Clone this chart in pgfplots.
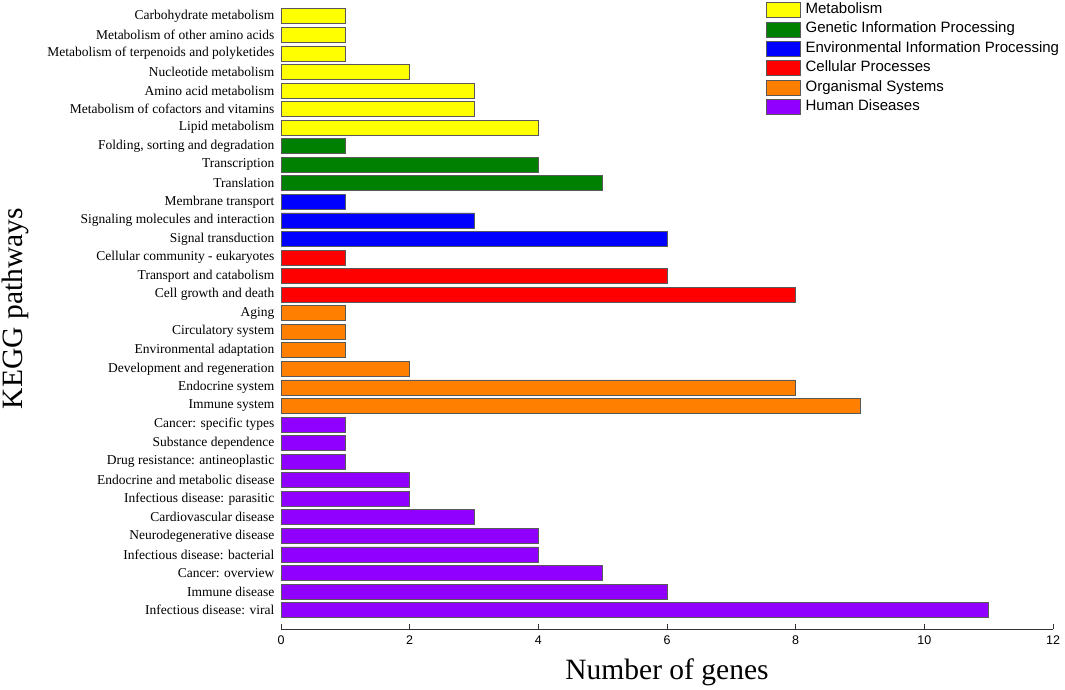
\documentclass[border=0pt]{standalone}
\usepackage{fontspec}
\setmainfont{Liberation Serif}
\newfontfamily\arial{Liberation Sans}
\usepackage{pgfplots}
\pgfplotsset{compat=1.18}

\definecolor{cMet}{RGB}{255,255,0}
\definecolor{cGen}{RGB}{0,128,0}
\definecolor{cEnv}{RGB}{0,0,255}
\definecolor{cCel}{RGB}{255,0,0}
\definecolor{cOrg}{RGB}{255,128,0}
\definecolor{cHum}{RGB}{143,0,255}

\begin{document}
\begin{tikzpicture}[x=1pt,y=1pt]
\useasboundingbox (0,0) rectangle (1065,690);
\begin{axis}[
  at={(281pt,61pt)}, anchor=south west,
  scale only axis, width=772pt, height=622pt,
  xbar, bar width=15pt, /pgf/bar shift=0pt,
  y dir=reverse,
  xmin=0, xmax=12, ymin=-0.5, ymax=33.02,
  xtick={0,2,...,12},
  ytick={0,...,32},
  yticklabels={Carbohydrate metabolism, Metabolism of other amino acids,
    Metabolism of terpenoids and polyketides, Nucleotide metabolism,
    Amino acid metabolism, Metabolism of cofactors and vitamins,
    Lipid metabolism, {Folding, sorting and degradation}, Transcription,
    Translation, Membrane transport, Signaling molecules and interaction,
    Signal transduction, Cellular community - eukaryotes,
    Transport and catabolism, Cell growth and death, Aging,
    Circulatory system, Environmental adaptation,
    Development and regeneration, Endocrine system, Immune system,
    Cancer: specific types, Substance dependence,
    Drug resistance: antineoplastic, Endocrine and metabolic disease,
    Infectious disease: parasitic, Cardiovascular disease,
    Neurodegenerative disease, Infectious disease: bacterial,
    Cancer: overview, Immune disease, Infectious disease: viral},
  axis x line*=bottom,
  y axis line style={draw=none}, ytick style={draw=none}, ytick pos=left,
  x axis line style={line width=1pt, black!80},
  xtick style={line width=1pt, black!80},
  tick align=inside, major tick length=5pt, xtick pos=bottom,
  /pgf/number format/assume math mode=true,
  xticklabel style={font=\arial\fontsize{12.5}{14}\selectfont, yshift=-3pt},
  yticklabel style={font=\fontsize{13.5}{16}\selectfont, xshift=-3pt},
  xlabel={Number of genes},
  xlabel style={font=\fontsize{29.5}{34}\selectfont, at={(axis description cs:0.5,0)}, anchor=center, yshift=-43pt},
  ylabel={KEGG pathways},
  ylabel style={font=\fontsize{29.5}{34}\selectfont, at={(axis description cs:0,0.515)}, anchor=center, yshift=266pt},
  legend style={at={(axis description cs:0.628,1.008)}, anchor=north west,
    draw=none, fill=none, inner sep=0pt, row sep=3.8pt,
    font=\arial\fontsize{15}{18}\selectfont,
    nodes={inner sep=0pt, text height=11pt, text depth=4pt, anchor=west},
    /tikz/every odd column/.append style={column sep=5pt}},
  legend cell align=left,
  legend image code/.code={\draw[#1] (0pt,-7.5pt) rectangle (34pt,7.5pt);},
  every axis plot/.append style={draw=black!65, line width=0.6pt},
]
\addplot[fill=cMet] coordinates {(1,0) (1,1) (1,2) (2,3) (3,4) (3,5) (4,6)};
\addlegendentry{Metabolism}
\addplot[fill=cGen] coordinates {(1,7) (4,8) (5,9)};
\addlegendentry{Genetic Information Processing}
\addplot[fill=cEnv] coordinates {(1,10) (3,11) (6,12)};
\addlegendentry{Environmental Information Processing}
\addplot[fill=cCel] coordinates {(1,13) (6,14) (8,15)};
\addlegendentry{Cellular Processes}
\addplot[fill=cOrg] coordinates {(1,16) (1,17) (1,18) (2,19) (8,20) (9,21)};
\addlegendentry{Organismal Systems}
\addplot[fill=cHum] coordinates {(1,22) (1,23) (1,24) (2,25) (2,26) (3,27) (4,28) (4,29) (5,30) (6,31) (11,32)};
\addlegendentry{Human Diseases}
\end{axis}
\end{tikzpicture}
\end{document}
